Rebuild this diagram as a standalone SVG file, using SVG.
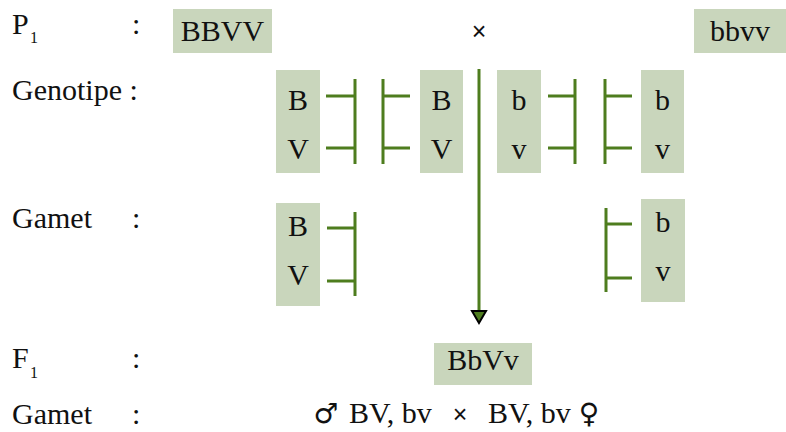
<svg xmlns="http://www.w3.org/2000/svg" width="786" height="432" viewBox="0 0 786 432">
<style>
.t{font-family:"Liberation Serif","Times New Roman",serif;font-size:30px;fill:#111}
.c{text-anchor:middle}
.s{font-family:"Liberation Serif",serif;font-size:16px;fill:#111}
.x{font-family:"Liberation Sans",Arial,sans-serif;font-size:25px;fill:#111;text-anchor:middle}
.sym{font-family:"DejaVu Sans",sans-serif;font-size:28px;fill:#111;text-anchor:middle}
.box{fill:#c9d6bc}
.ln{stroke:#4e7d1e;stroke-width:3;fill:none}
</style>
<rect width="786" height="432" fill="#fff"/>
<g id="labels">
<text class="t" x="12" y="34">P</text><text class="s" x="30" y="43">1</text>
<text class="t" x="132" y="34">:</text>
<text class="t" x="12" y="100">Genotipe :</text>
<text class="t" x="12" y="228">Gamet</text><text class="t" x="132" y="228">:</text>
<text class="t" x="12" y="368">F</text><text class="s" x="30" y="378">1</text>
<text class="t" x="132" y="368">:</text>
<text class="t" x="12" y="424">Gamet</text><text class="t" x="132" y="424">:</text>
</g>
<g id="p1-male">
<rect class="box" x="173" y="9" width="99" height="44"/>
<text class="t c" x="222.5" y="41">BBVV</text>
</g>
<g id="cross-p1"><text class="x" x="479" y="40">×</text></g>
<g id="p1-female">
<rect class="box" x="694" y="9" width="92" height="44"/>
<text class="t c" x="740" y="41">bbvv</text>
</g>
<g id="geno-male-1">
<rect class="box" x="276" y="70" width="44" height="103"/>
<text class="t c" x="298" y="110">B</text>
<text class="t c" x="298" y="159">V</text>
</g>
<g id="geno-male-2">
<rect class="box" x="420" y="70" width="43" height="103"/>
<text class="t c" x="441.5" y="110">B</text>
<text class="t c" x="441.5" y="159">V</text>
</g>
<g id="geno-female-1">
<rect class="box" x="497" y="70" width="44" height="103"/>
<text class="t c" x="519" y="110">b</text>
<text class="t c" x="519" y="159">v</text>
</g>
<g id="geno-female-2">
<rect class="box" x="641" y="70" width="43" height="103"/>
<text class="t c" x="662.5" y="110">b</text>
<text class="t c" x="662.5" y="159">v</text>
</g>
<g id="gamet-male">
<rect class="box" x="276" y="203" width="44" height="103"/>
<text class="t c" x="298" y="236">B</text>
<text class="t c" x="298" y="285">V</text>
</g>
<g id="gamet-female">
<rect class="box" x="641" y="199" width="44" height="103"/>
<text class="t c" x="663" y="232">b</text>
<text class="t c" x="663" y="281">v</text>
</g>
<g id="f1">
<rect class="box" x="434" y="343" width="98" height="42"/>
<text class="t c" x="483" y="370">BbVv</text>
</g>
<g id="gamet-f1">
<text class="sym" x="326" y="423">♂</text>
<text class="t" x="349" y="423">BV, bv</text>
<text class="x" x="460" y="423">×</text>
<text class="t" x="488" y="423">BV, bv</text>
<text class="sym" x="589" y="423">♀</text>
</g>
<g id="connectors">
<path class="ln" d="M326 96H355M326 148H355M355 79V164"/>
<path class="ln" d="M383 96H410M383 148H410M383 79V164"/>
<path class="ln" d="M548 96H575M548 148H575M575 79V164"/>
<path class="ln" d="M605 96H632M605 148H632M605 79V164"/>
<path class="ln" d="M327 228H355M327 281H355M355 212V296"/>
<path class="ln" d="M606 224H632M606 278H632M606 208V292"/>
<path class="ln" d="M479 69V312"/>
<path d="M472 311H486L479 323Z" fill="#4e7d1e" stroke="#000" stroke-width="2" stroke-linejoin="miter"/>
</g>
</svg>
